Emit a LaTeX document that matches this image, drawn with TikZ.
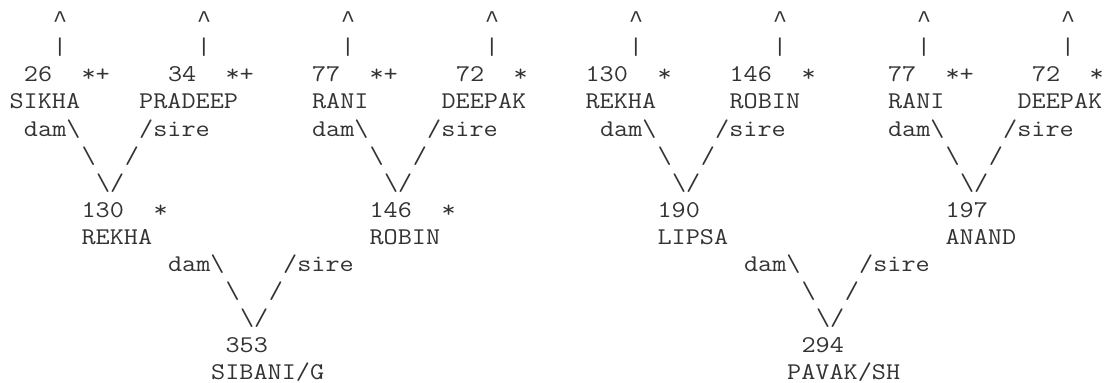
\documentclass[tikz,border=0pt]{standalone}
\usepackage{fontspec}
\setmonofont{Latin Modern Mono}[FakeStretch=1.1429]
\newfontfamily\caretfont{Liberation Mono}
\begin{document}
\begin{tikzpicture}[
  x=7.2pt, y=-13.55pt,
  glyph/.style={font=\ttfamily\fontsize{12}{13.55}\selectfont, text=black!80,
    anchor=base west, inner sep=0pt, outer sep=0pt},
  tipglyph/.style={glyph, font=\caretfont\fontsize{12}{13.55}\selectfont}
]
\useasboundingbox (-4.8pt,13.85pt) rectangle (548.7pt,-177.65pt);
% stubs above the oldest generation
\foreach \c [count=\i] in {3,13,...,73}{
  \node[tipglyph] (tip\i) at (\c,0) {\textasciicircum};
  \node[glyph] (bar\i) at (\c,1) {|};
}
% ids
\foreach \c/\r/\t [count=\i] in {1/2/26,11/2/34,21/2/77,31/2/72,40/2/130,50/2/146,61/2/77,71/2/72,
    5/7/130,25/7/146,45/7/190,65/7/197,15/12/353,55/12/294}{
  \node[glyph] (id\i) at (\c,\r) {\t};
}
% flags
\foreach \c/\r/\t [count=\i] in {5/2/*+,15/2/*+,25/2/*+,35/2/*,45/2/*,55/2/*,65/2/*+,75/2/*,
    10/7/*,30/7/*}{
  \node[glyph] (flag\i) at (\c,\r) {\t};
}
% names
\foreach \c/\r/\t [count=\i] in {0/3/SIKHA,9/3/PRADEEP,21/3/RANI,30/3/DEEPAK,40/3/REKHA,
    50/3/ROBIN,61/3/RANI,70/3/DEEPAK,5/8/REKHA,25/8/ROBIN,45/8/LIPSA,65/8/ANAND,
    14/13/{SIBANI/G},54/13/{PAVAK/SH}}{
  \node[glyph] (name\i) at (\c,\r) {\t};
}
% dam and sire joins
\foreach \c/\r [count=\i] in {8/4,28/4,48/4,68/4,18/9,58/9}{
  \node[glyph] (dam\i) at (\c-7,\r) {dam\textbackslash};
  \node[glyph] (sire\i) at (\c+1,\r) {/sire};
  \node[glyph] (dl\i) at (\c-3,\r+1) {\textbackslash};
  \node[glyph] (sl\i) at (\c,\r+1) {/};
  \node[glyph] (v\i) at (\c-2,\r+2) {\textbackslash/};
}
\end{tikzpicture}
\end{document}
